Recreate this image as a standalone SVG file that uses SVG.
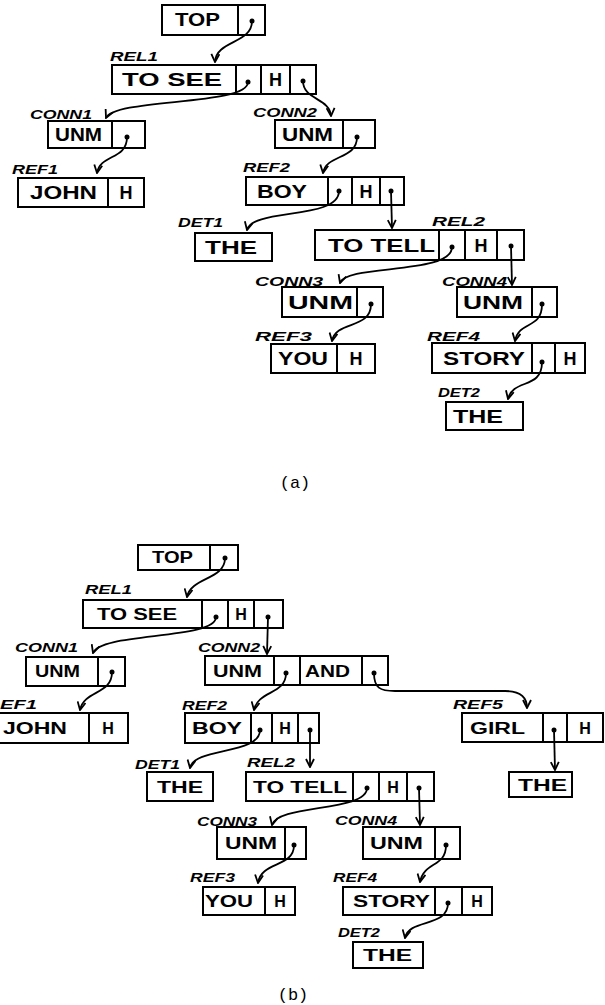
<svg xmlns="http://www.w3.org/2000/svg" width="605" height="1005" viewBox="0 0 605 1005">
<style>
.c{fill:none;stroke:#000;stroke-width:2}
.t{font-family:"Liberation Sans",Arial,sans-serif;font-weight:bold;fill:#000}
.a{font-size:18px}
.b{font-size:16px}
.m{text-anchor:middle}
.l{font-family:"Liberation Sans",Arial,sans-serif;font-weight:bold;font-style:italic;font-size:13px;fill:#000}
.d{fill:#000}
.w{fill:none;stroke:#000;stroke-width:1.8;marker-end:url(#ah)}
.cap{font-family:"Liberation Mono","Courier New",monospace;font-size:17px;fill:#000;text-anchor:middle}
</style>
<defs>
<marker id="ah" viewBox="0 0 10 10" refX="9" refY="5" markerWidth="10" markerHeight="10" markerUnits="userSpaceOnUse" orient="auto">
<path d="M1,1 L9,5 L1,9" fill="none" stroke="#000" stroke-width="1.8"/>
</marker>
</defs>
<rect width="605" height="1005" fill="#fff"/>

<!-- ===== (a) ===== -->
<g id="a-top">
<rect class="c" x="162" y="5" width="103" height="30"/><line class="c" x1="238" y1="5" x2="238" y2="35"/>
<text class="t a" x="175" y="26" textLength="45" lengthAdjust="spacingAndGlyphs">TOP</text>
<circle class="d" cx="252" cy="21" r="2.5"/>
</g>
<g id="a-rel1">
<text class="l" x="110" y="61" textLength="48" lengthAdjust="spacingAndGlyphs">REL1</text>
<rect class="c" x="112" y="65" width="204" height="29"/>
<line class="c" x1="236" y1="65" x2="236" y2="94"/><line class="c" x1="261" y1="65" x2="261" y2="94"/><line class="c" x1="290" y1="65" x2="290" y2="94"/>
<text class="t a" x="122" y="86" textLength="100" lengthAdjust="spacingAndGlyphs">TO SEE</text>
<text class="t a m" x="275.5" y="86">H</text>
<circle class="d" cx="248" cy="82" r="2.5"/><circle class="d" cx="303" cy="81" r="2.5"/>
</g>
<g id="a-conn1">
<text class="l" x="30" y="119" textLength="62" lengthAdjust="spacingAndGlyphs">CONN1</text>
<rect class="c" x="48" y="121" width="97" height="27"/><line class="c" x1="112" y1="121" x2="112" y2="148"/>
<text class="t a" x="55" y="141" textLength="47" lengthAdjust="spacingAndGlyphs">UNM</text>
<circle class="d" cx="127" cy="137" r="2.5"/>
</g>
<g id="a-conn2">
<text class="l" x="253" y="117" textLength="64" lengthAdjust="spacingAndGlyphs">CONN2</text>
<rect class="c" x="275" y="120" width="100" height="28"/><line class="c" x1="343" y1="120" x2="343" y2="148"/>
<text class="t a" x="282" y="141" textLength="51" lengthAdjust="spacingAndGlyphs">UNM</text>
<circle class="d" cx="357" cy="137" r="2.5"/>
</g>
<g id="a-ref1">
<text class="l" x="12" y="174" textLength="46" lengthAdjust="spacingAndGlyphs">REF1</text>
<rect class="c" x="18" y="178" width="126" height="29"/><line class="c" x1="108" y1="178" x2="108" y2="207"/>
<text class="t a" x="30" y="199" textLength="67" lengthAdjust="spacingAndGlyphs">JOHN</text>
<text class="t a m" x="126" y="199">H</text>
</g>
<g id="a-ref2">
<text class="l" x="243" y="172" textLength="47" lengthAdjust="spacingAndGlyphs">REF2</text>
<rect class="c" x="246" y="177" width="158" height="28"/>
<line class="c" x1="328" y1="177" x2="328" y2="205"/><line class="c" x1="352" y1="177" x2="352" y2="205"/><line class="c" x1="380" y1="177" x2="380" y2="205"/>
<text class="t a" x="257" y="198" textLength="50" lengthAdjust="spacingAndGlyphs">BOY</text>
<text class="t a m" x="366" y="198">H</text>
<circle class="d" cx="339" cy="191" r="2.5"/><circle class="d" cx="391" cy="191" r="2.5"/>
</g>
<g id="a-det1">
<text class="l" x="178" y="227" textLength="45" lengthAdjust="spacingAndGlyphs">DET1</text>
<rect class="c" x="195" y="233" width="77" height="28"/>
<text class="t a" x="205" y="254" textLength="52" lengthAdjust="spacingAndGlyphs">THE</text>
</g>
<g id="a-rel2">
<text class="l" x="432" y="226" textLength="53" lengthAdjust="spacingAndGlyphs">REL2</text>
<rect class="c" x="315" y="230" width="209" height="30"/>
<line class="c" x1="439" y1="230" x2="439" y2="260"/><line class="c" x1="465" y1="230" x2="465" y2="260"/><line class="c" x1="497" y1="230" x2="497" y2="260"/>
<text class="t a" x="328" y="252" textLength="107" lengthAdjust="spacingAndGlyphs">TO TELL</text>
<text class="t a m" x="481" y="252">H</text>
<circle class="d" cx="452" cy="247" r="2.5"/><circle class="d" cx="511" cy="246" r="2.5"/>
</g>
<g id="a-conn3">
<text class="l" x="255" y="286" textLength="68" lengthAdjust="spacingAndGlyphs">CONN3</text>
<rect class="c" x="282" y="287" width="101" height="30"/><line class="c" x1="357" y1="287" x2="357" y2="317"/>
<text class="t a" x="288" y="309" textLength="65" lengthAdjust="spacingAndGlyphs">UNM</text>
<circle class="d" cx="371" cy="304" r="2.5"/>
</g>
<g id="a-conn4">
<text class="l" x="442" y="286" textLength="65" lengthAdjust="spacingAndGlyphs">CONN4</text>
<rect class="c" x="457" y="287" width="100" height="30"/><line class="c" x1="532" y1="287" x2="532" y2="317"/>
<text class="t a" x="463" y="309" textLength="60" lengthAdjust="spacingAndGlyphs">UNM</text>
<circle class="d" cx="542" cy="304" r="2.5"/>
</g>
<g id="a-ref3">
<text class="l" x="255" y="341" textLength="57" lengthAdjust="spacingAndGlyphs">REF3</text>
<rect class="c" x="271" y="344" width="104" height="29"/><line class="c" x1="337" y1="344" x2="337" y2="373"/>
<text class="t a" x="278" y="365" textLength="50" lengthAdjust="spacingAndGlyphs">YOU</text>
<text class="t a m" x="356" y="365">H</text>
</g>
<g id="a-ref4">
<text class="l" x="427" y="341" textLength="53" lengthAdjust="spacingAndGlyphs">REF4</text>
<rect class="c" x="432" y="343" width="153" height="30"/>
<line class="c" x1="532" y1="343" x2="532" y2="373"/><line class="c" x1="555" y1="343" x2="555" y2="373"/>
<text class="t a" x="443" y="365" textLength="82" lengthAdjust="spacingAndGlyphs">STORY</text>
<text class="t a m" x="570" y="365">H</text>
<circle class="d" cx="542" cy="362" r="2.5"/>
</g>
<g id="a-det2">
<text class="l" x="438" y="397" textLength="42" lengthAdjust="spacingAndGlyphs">DET2</text>
<rect class="c" x="446" y="402" width="77" height="28"/>
<text class="t a" x="453" y="423" textLength="50" lengthAdjust="spacingAndGlyphs">THE</text>
</g>
<text class="cap" x="295" y="488">(a)</text>

<g id="a-connectors">
<path class="w" d="M252,21 C252,44 216,40 215,62"/>
<path class="w" d="M248,82 C248,106 115,98 106,118"/>
<path class="w" d="M303,81 C303,100 330,98 331,116"/>
<path class="w" d="M127,137 C127,160 100,154 97,173"/>
<path class="w" d="M357,137 C357,160 326,154 323,173"/>
<path class="w" d="M339,191 C339,220 252,208 247,230"/>
<path class="w" d="M391,191 L392,228"/>
<path class="w" d="M452,247 C452,275 346,264 340,283"/>
<path class="w" d="M511,246 L512,285"/>
<path class="w" d="M371,304 C371,330 336,320 332,341"/>
<path class="w" d="M542,304 C542,330 519,320 515,341"/>
<path class="w" d="M542,362 C542,390 513,378 508,399"/>
</g>

<!-- ===== (b) ===== -->
<g id="b-top">
<rect class="c" x="138" y="545" width="100" height="25"/><line class="c" x1="210" y1="545" x2="210" y2="570"/>
<text class="t b" x="152" y="563" textLength="41" lengthAdjust="spacingAndGlyphs">TOP</text>
<circle class="d" cx="225" cy="558" r="2.5"/>
</g>
<g id="b-rel1">
<text class="l" x="85" y="594" textLength="47" lengthAdjust="spacingAndGlyphs">REL1</text>
<rect class="c" x="83" y="600" width="200" height="28"/>
<line class="c" x1="202" y1="600" x2="202" y2="628"/><line class="c" x1="228" y1="600" x2="228" y2="628"/><line class="c" x1="254" y1="600" x2="254" y2="628"/>
<text class="t b" x="97" y="620" textLength="80" lengthAdjust="spacingAndGlyphs">TO SEE</text>
<text class="t b m" x="241" y="620">H</text>
<circle class="d" cx="216" cy="617" r="2.5"/><circle class="d" cx="268" cy="617" r="2.5"/>
</g>
<g id="b-conn1">
<text class="l" x="15" y="652" textLength="63" lengthAdjust="spacingAndGlyphs">CONN1</text>
<rect class="c" x="26" y="657" width="99" height="29"/><line class="c" x1="98" y1="657" x2="98" y2="686"/>
<text class="t b" x="35" y="677" textLength="45" lengthAdjust="spacingAndGlyphs">UNM</text>
<circle class="d" cx="112" cy="672" r="2.5"/>
</g>
<g id="b-conn2">
<text class="l" x="198" y="652" textLength="62" lengthAdjust="spacingAndGlyphs">CONN2</text>
<rect class="c" x="205" y="656" width="183" height="29"/>
<line class="c" x1="274" y1="656" x2="274" y2="685"/><line class="c" x1="300" y1="656" x2="300" y2="685"/><line class="c" x1="362" y1="656" x2="362" y2="685"/>
<text class="t b" x="213" y="677" textLength="49" lengthAdjust="spacingAndGlyphs">UNM</text>
<text class="t b" x="305" y="677" textLength="45" lengthAdjust="spacingAndGlyphs">AND</text>
<circle class="d" cx="286" cy="673" r="2.5"/><circle class="d" cx="374" cy="673" r="2.5"/>
</g>
<g id="b-ref1">
<text class="l" x="0" y="709" textLength="37" lengthAdjust="spacingAndGlyphs">EF1</text>
<rect class="c" x="-3" y="713" width="131" height="30"/><line class="c" x1="89" y1="713" x2="89" y2="743"/>
<text class="t b" x="3" y="734" textLength="64" lengthAdjust="spacingAndGlyphs">JOHN</text>
<text class="t b m" x="108" y="734">H</text>
</g>
<g id="b-ref2">
<text class="l" x="182" y="710" textLength="45" lengthAdjust="spacingAndGlyphs">REF2</text>
<rect class="c" x="185" y="713" width="134" height="30"/>
<line class="c" x1="251" y1="713" x2="251" y2="743"/><line class="c" x1="272" y1="713" x2="272" y2="743"/><line class="c" x1="298" y1="713" x2="298" y2="743"/>
<text class="t b" x="192" y="734" textLength="50" lengthAdjust="spacingAndGlyphs">BOY</text>
<text class="t b m" x="285" y="734">H</text>
<circle class="d" cx="260" cy="730" r="2.5"/><circle class="d" cx="310" cy="730" r="2.5"/>
</g>
<g id="b-ref5">
<text class="l" x="453" y="709" textLength="50" lengthAdjust="spacingAndGlyphs">REF5</text>
<rect class="c" x="462" y="713" width="141" height="29"/>
<line class="c" x1="543" y1="713" x2="543" y2="742"/><line class="c" x1="567" y1="713" x2="567" y2="742"/>
<text class="t b" x="470" y="734" textLength="55" lengthAdjust="spacingAndGlyphs">GIRL</text>
<text class="t b m" x="585" y="734">H</text>
<circle class="d" cx="554" cy="730" r="2.5"/>
</g>
<g id="b-det1">
<text class="l" x="135" y="769" textLength="45" lengthAdjust="spacingAndGlyphs">DET1</text>
<rect class="c" x="147" y="772" width="66" height="29"/>
<text class="t b" x="157" y="793" textLength="46" lengthAdjust="spacingAndGlyphs">THE</text>
</g>
<g id="b-rel2">
<text class="l" x="247" y="767" textLength="48" lengthAdjust="spacingAndGlyphs">REL2</text>
<rect class="c" x="246" y="772" width="188" height="29"/>
<line class="c" x1="353" y1="772" x2="353" y2="801"/><line class="c" x1="379" y1="772" x2="379" y2="801"/><line class="c" x1="407" y1="772" x2="407" y2="801"/>
<text class="t b" x="253" y="793" textLength="94" lengthAdjust="spacingAndGlyphs">TO TELL</text>
<text class="t b m" x="393" y="793">H</text>
<circle class="d" cx="367" cy="788" r="2.5"/><circle class="d" cx="419" cy="788" r="2.5"/>
</g>
<g id="b-det3">
<rect class="c" x="509" y="772" width="63" height="25"/>
<text class="t b" x="518" y="791" textLength="49" lengthAdjust="spacingAndGlyphs">THE</text>
</g>
<g id="b-conn3">
<text class="l" x="197" y="826" textLength="60" lengthAdjust="spacingAndGlyphs">CONN3</text>
<rect class="c" x="217" y="827" width="89" height="32"/><line class="c" x1="285" y1="827" x2="285" y2="859"/>
<text class="t b" x="225" y="849" textLength="52" lengthAdjust="spacingAndGlyphs">UNM</text>
<circle class="d" cx="294" cy="845" r="2.5"/>
</g>
<g id="b-conn4">
<text class="l" x="335" y="825" textLength="62" lengthAdjust="spacingAndGlyphs">CONN4</text>
<rect class="c" x="363" y="827" width="97" height="32"/><line class="c" x1="435" y1="827" x2="435" y2="859"/>
<text class="t b" x="370" y="849" textLength="53" lengthAdjust="spacingAndGlyphs">UNM</text>
<circle class="d" cx="446" cy="845" r="2.5"/>
</g>
<g id="b-ref3">
<text class="l" x="190" y="882" textLength="45" lengthAdjust="spacingAndGlyphs">REF3</text>
<rect class="c" x="203" y="887" width="92" height="28"/><line class="c" x1="265" y1="887" x2="265" y2="915"/>
<text class="t b" x="205" y="907" textLength="48" lengthAdjust="spacingAndGlyphs">YOU</text>
<text class="t b m" x="280" y="907">H</text>
</g>
<g id="b-ref4">
<text class="l" x="333" y="882" textLength="44" lengthAdjust="spacingAndGlyphs">REF4</text>
<rect class="c" x="343" y="887" width="149" height="28"/>
<line class="c" x1="435" y1="887" x2="435" y2="915"/><line class="c" x1="462" y1="887" x2="462" y2="915"/>
<text class="t b" x="353" y="907" textLength="77" lengthAdjust="spacingAndGlyphs">STORY</text>
<text class="t b m" x="477" y="907">H</text>
<circle class="d" cx="448" cy="903" r="2.5"/>
</g>
<g id="b-det2">
<text class="l" x="338" y="937" textLength="42" lengthAdjust="spacingAndGlyphs">DET2</text>
<rect class="c" x="353" y="942" width="70" height="26"/>
<text class="t b" x="363" y="961" textLength="49" lengthAdjust="spacingAndGlyphs">THE</text>
</g>
<text class="cap" x="293" y="1000">(b)</text>

<g id="b-connectors">
<path class="w" d="M225,558 C225,580 191,577 187,597"/>
<path class="w" d="M216,617 C216,640 100,632 93,653"/>
<path class="w" d="M268,617 L267,654"/>
<path class="w" d="M112,672 C112,695 84,690 80,710"/>
<path class="w" d="M286,673 C286,695 258,690 254,710"/>
<path class="w" d="M374,673 C374,688 380,691 395,691 L505,691 C520,691 527,697 527,708"/>
<path class="w" d="M260,730 C260,755 194,747 190,768"/>
<path class="w" d="M310,730 L310,767"/>
<path class="w" d="M554,730 L555,770"/>
<path class="w" d="M367,788 C367,812 277,804 272,825"/>
<path class="w" d="M419,788 L420,825"/>
<path class="w" d="M294,845 C294,868 261,861 258,883"/>
<path class="w" d="M446,845 C446,868 424,861 420,882"/>
<path class="w" d="M448,903 C448,928 409,918 405,938"/>
</g>
</svg>
